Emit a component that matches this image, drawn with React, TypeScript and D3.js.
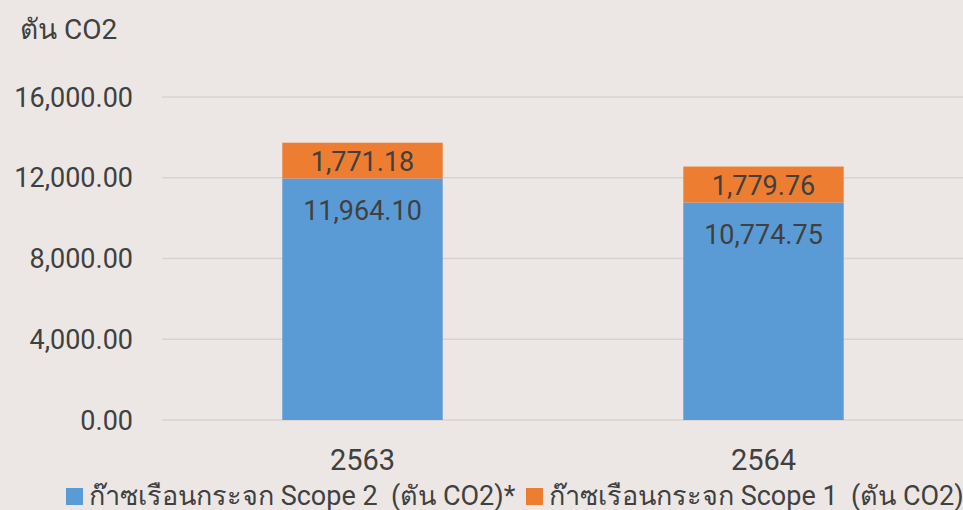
import * as d3 from "d3";
import { useEffect, useRef } from "react";

const years = ["2563", "2564"];
const scope2 = [11964.1, 10774.75];
const scope1 = [1771.18, 1779.76];
const yTicks = [0, 4000, 8000, 12000, 16000];
const seriesNames = [
  "ก๊าซเรือนกระจก Scope 2  (ตัน CO2)*",
  "ก๊าซเรือนกระจก Scope 1  (ตัน CO2)*",
];
const seriesColors = ["#5b9bd5", "#ed7d31"];

const App: React.FC = () => {
  const ref = useRef<SVGSVGElement>(null);

  const width = 963;
  const height = 510;
  const font = "Roboto, 'Noto Sans', sans-serif";
  const textColor = "#404040";

  useEffect(() => {
    if (!ref.current) return;
    const svg = d3.select(ref.current);
    svg.selectAll("*").remove();

    // background
    svg.append("rect").attr("width", width).attr("height", height).attr("fill", "#ece7e4");

    const x = d3.scaleBand<string>().domain(years).range([162, 964]).paddingInner(0.6).paddingOuter(0.3);
    const y = d3.scaleLinear().domain([0, 16000]).range([420, 97]);

    // gridlines
    svg
      .append("g")
      .selectAll("line")
      .data(yTicks)
      .enter()
      .append("line")
      .attr("x1", 162)
      .attr("x2", width)
      .attr("y1", (d) => y(d))
      .attr("y2", (d) => y(d))
      .attr("stroke", "#d6d3d1")
      .attr("stroke-width", 1.5);

    // y labels
    const fmt = d3.format(",.2f");
    svg
      .append("g")
      .selectAll("text")
      .data(yTicks)
      .enter()
      .append("text")
      .attr("x", 133)
      .attr("y", (d) => y(d))
      .attr("dy", "0.36em")
      .attr("text-anchor", "end")
      .style("font-family", font)
      .style("font-size", "27px")
      .style("fill", textColor)
      .text((d) => fmt(d));

    // axis title
    svg
      .append("text")
      .attr("x", 20)
      .attr("y", 39)
      .style("font-family", font)
      .style("font-size", "28px")
      .style("fill", textColor)
      .text("ตัน CO2");

    // stacked bars
    const stacks = years.map((yr, i) => [
      { y0: 0, y1: scope2[i], v: scope2[i], c: 0, yr },
      { y0: scope2[i], y1: scope2[i] + scope1[i], v: scope1[i], c: 1, yr },
    ]).flat();

    const bars = svg.append("g");
    bars
      .selectAll("rect")
      .data(stacks)
      .enter()
      .append("rect")
      .attr("x", (d) => x(d.yr)!)
      .attr("width", x.bandwidth())
      .attr("y", (d) => y(d.y1))
      .attr("height", (d) => y(d.y0) - y(d.y1))
      .attr("fill", (d) => seriesColors[d.c]);

    // value labels
    bars
      .selectAll("text")
      .data(stacks)
      .enter()
      .append("text")
      .attr("x", (d) => x(d.yr)! + x.bandwidth() / 2)
      .attr("y", (d) => (d.c === 1 ? (y(d.y0) + y(d.y1)) / 2 + 1 : y(d.y1) + 32))
      .attr("dy", "0.36em")
      .attr("text-anchor", "middle")
      .style("font-family", font)
      .style("font-size", "27px")
      .style("fill", textColor)
      .text((d) => fmt(d.v));

    // x labels
    svg
      .append("g")
      .selectAll("text")
      .data(years)
      .enter()
      .append("text")
      .attr("x", (d) => x(d)! + x.bandwidth() / 2)
      .attr("y", 470)
      .attr("text-anchor", "middle")
      .style("font-family", font)
      .style("font-size", "29px")
      .style("fill", textColor)
      .text((d) => d);

    // legend
    const legendX = [66, 526];
    const legend = svg
      .append("g")
      .selectAll("g")
      .data(seriesNames)
      .enter()
      .append("g")
      .attr("transform", (_d, i) => `translate(${legendX[i]}, 488)`);
    legend
      .append("rect")
      .attr("width", 17)
      .attr("height", 17)
      .attr("fill", (_d, i) => seriesColors[i]);
    legend
      .append("text")
      .attr("x", 23)
      .attr("y", 17)
      .style("font-family", font)
      .style("font-size", "27px")
      .style("white-space", "pre")
      .style("fill", textColor)
      .text((d) => d);
  }, []);

  return (
    <svg
      ref={ref}
      width={width}
      height={height}
      style={{ position: "absolute", left: 0, top: 0, display: "block" }}
    ></svg>
  );
};

export default App;
